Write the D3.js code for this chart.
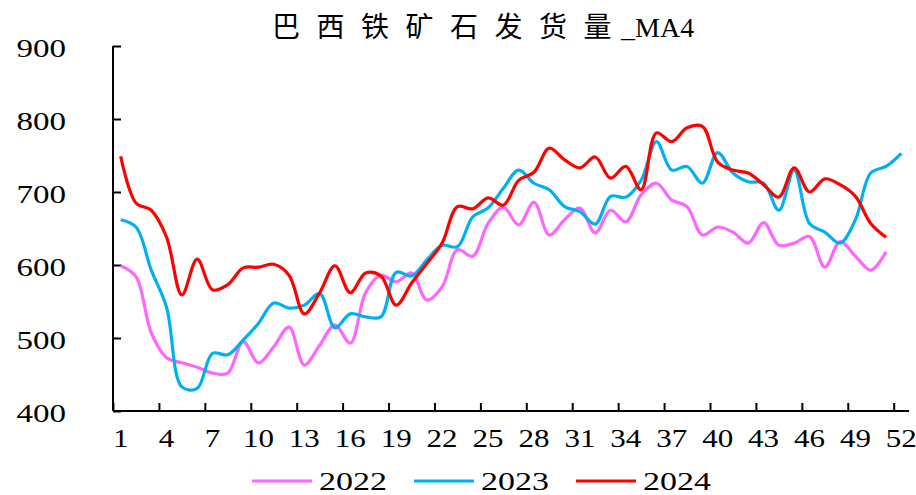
<!DOCTYPE html>
<meta charset="utf-8">
<style>
body { margin: 0; background: #fff; }
svg { display: block; }
.title { font: 28px "Noto Sans CJK SC", sans-serif; }
.title .latin { font-family: "Liberation Serif", serif; letter-spacing: 0; }
.tick text { font-family: "Liberation Serif", serif; fill: #000; }
.legend text { font: 26px "Liberation Serif", serif; }
</style>
<svg width="916" height="495"></svg>
<script src="https://d3js.org/d3.v7.min.js"></script>
<script>

var weeks = d3.range(1, 53);

var s2022 = [599, 584, 507, 473, 466, 460, 452, 452, 495, 466, 488, 515, 463, 490, 518, 493, 562, 586, 577, 589,
             552, 570, 621, 612, 657, 679, 655, 686, 641, 662, 678, 644, 675, 659, 696, 712, 689, 680, 641, 652,
             645, 630, 658, 627, 630, 639, 597, 632, 612, 593, 618];

var s2023 = [662, 652, 593, 542, 433, 431, 479, 477, 497, 520, 548, 541, 545, 561, 514, 533, 529, 529, 590, 585,
             607, 627, 625, 666, 678, 705, 730, 712, 703, 680, 673, 656, 694, 693, 716, 769, 730, 735, 712, 754,
             726, 714, 712, 675, 730, 657, 645, 630, 662, 726, 735, 753];

var s2024 = [749, 685, 675, 638, 559, 608, 566, 573, 596, 597, 601, 586, 533, 562, 599, 562, 589, 585, 545, 575,
             602, 630, 680, 677, 692, 682, 716, 727, 760, 744, 733, 748, 719, 735, 703, 781, 769, 788, 790, 741,
             730, 726, 710, 693, 733, 700, 718, 710, 694, 657, 638];

var series = [
  { name: "2022", values: s2022, color: "#ff66ff" },
  { name: "2023", values: s2023, color: "#00b0f0" },
  { name: "2024", values: s2024, color: "#ff0000" }
];

var yTicks = [400, 500, 600, 700, 800, 900];

var svg = d3.select("svg");

var x = d3.scaleBand()
    .domain(weeks)
    .range([113, 909]);

var y = d3.scaleLinear()
    .domain([400, 900])
    .range([411, 46]);

var bw = x.bandwidth();
function cx(w) { return x(w) + bw / 2; }

// title: wide-spaced CJK, compact latin suffix
var title = svg.append("text")
    .attr("class", "title")
    .attr("x", 272)
    .attr("y", 37);
title.append("tspan")
    .style("letter-spacing", "16.5px")
    .text("巴西铁矿石发货量");
title.append("tspan")
    .attr("class", "latin")
    .attr("dx", -7)
    .text("_MA4");

// digits in the reference are wider than Liberation Serif's
function widen(sel, perDigit) {
  sel.attr("textLength", function() { return this.textContent.length * perDigit; })
     .attr("lengthAdjust", "spacingAndGlyphs");
}

// y axis
var yAxis = svg.append("g")
    .attr("transform", "translate(" + x.range()[0] + ",0)")
    .call(d3.axisLeft(y).tickValues(yTicks).tickSize(-8).tickPadding(47));
yAxis.selectAll("path, line").attr("stroke", "#000").attr("stroke-width", 2);
yAxis.select(".domain").attr("d", "M0," + y(900) + "V" + y(400));
yAxis.selectAll("text").style("font-size", "25px").attr("dy", "0.42em").call(widen, 16.5);

// x axis: labels at category centres
var xLab = svg.append("g")
    .attr("transform", "translate(0," + y(400) + ")")
    .call(d3.axisBottom(x).tickValues(weeks.filter(function(w) { return (w - 1) % 3 === 0; })).tickSize(0).tickPadding(18));
xLab.select(".domain").remove();
xLab.selectAll("text").style("font-size", "25px").call(widen, 15.5);

// x axis: tick marks on category boundaries
var xb = d3.scaleLinear().domain([0, 52]).range(x.range());
var xTickAxis = svg.append("g")
    .attr("transform", "translate(0," + y(400) + ")")
    .call(d3.axisBottom(xb).tickValues(d3.range(0, 52, 3)).tickSize(-8).tickFormat(""));
xTickAxis.selectAll("path, line").attr("stroke", "#000").attr("stroke-width", 2);
xTickAxis.select(".domain").attr("d", "M" + x.range()[0] + ",0H" + x.range()[1]);

// lines
var line = d3.line()
    .x(function(d, i) { return cx(weeks[i]); })
    .y(function(d) { return y(d); })
    .curve(d3.curveCatmullRom.alpha(0.5));

svg.append("g").selectAll("path")
    .data(series)
    .enter().append("path")
      .attr("fill", "none")
      .attr("stroke", function(d) { return d.color; })
      .attr("stroke-width", 3.2)
      .attr("stroke-linejoin", "round")
      .attr("d", function(d) { return line(d.values); });

// legend
var legend = svg.append("g").attr("class", "legend");
var lg = legend.selectAll("g")
    .data(series)
    .enter().append("g")
      .attr("transform", function(d, i) { return "translate(" + (252 + i * 162) + ",481)"; });
lg.append("line")
    .attr("x1", 0).attr("x2", 60).attr("y1", 0).attr("y2", 0)
    .attr("stroke", function(d) { return d.color; })
    .attr("stroke-width", 3.2);
lg.append("text")
    .attr("x", 67)
    .attr("y", 9)
    .attr("textLength", 68)
    .attr("lengthAdjust", "spacingAndGlyphs")
    .text(function(d) { return d.name; });

</script>
